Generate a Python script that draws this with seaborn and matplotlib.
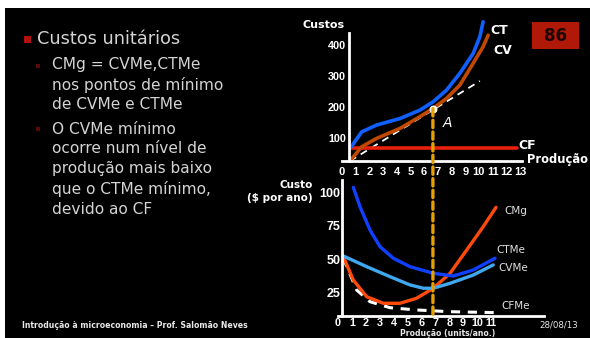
import matplotlib
matplotlib.use("Agg")
import matplotlib.pyplot as plt
from matplotlib.patches import Rectangle, ConnectionPatch
import seaborn as sns
import pandas as pd

# top chart: total costs (Custos vs Produção)
q_ct = [0.66, 1.44, 2.53, 4.23, 5.69, 6.66, 7.64, 8.61, 9.58, 10.07, 10.31]
ct = [71, 120, 142, 163, 190, 217, 255, 309, 373, 427, 475]
q_cv = [0.58, 1.44, 2.53, 4.23, 5.69, 6.66, 7.64, 8.61, 9.58, 10.31, 10.68]
cv = [26, 72, 99, 131, 169, 196, 228, 271, 341, 395, 432]
q_cf = [0.65, 12.8]
cf = [69, 69]
q_ray = [0.58, 10.07]
ray = [26, 284]
q_a, v_a = 6.64, 195
top_xticks = list(range(14))
top_yticks = [100, 200, 300, 400]

# bottom chart: unit costs
q_ctme = [1.1, 1.58, 2.3, 3.02, 3.98, 5.18, 6.86, 8.3, 9.73, 11.3]
ctme = [104, 89.5, 72, 59.5, 50.8, 44.5, 39.5, 37.5, 42, 50.8]
q_cvme = [0.38, 2.06, 3.74, 5.18, 6.14, 6.86, 8.06, 9.73, 11.17]
cvme = [52.5, 44.5, 37, 30.8, 28.3, 28.3, 32, 38.2, 45.8]
q_cmg = [0.38, 1.1, 2.06, 3.26, 4.46, 5.66, 6.86, 8.06, 9.26, 10.45, 11.37]
cmg = [52, 34.5, 22, 17, 17, 20.8, 28.3, 39.5, 57, 74.5, 89]
q_cfme = [0.38, 1.34, 2.3, 3.74, 5.66, 8.06, 11.4]
cfme = [51, 27, 18.2, 13.7, 12, 10.7, 10]
q_min = 6.83
bot_xticks = list(range(12))
bot_yticks = [25, 50, 75, 100]

bullets = [
    ["CMg = CVMe,CTMe", "nos pontos de mínimo", "de CVMe e CTMe"],
    ["O CVMe mínimo", "ocorre num nível de", "produção mais baixo",
     "que o CTMe mínimo,", "devido ao CF"],
]

W, H = 590, 338
sns.set_style("white")
plt.rcParams["font.family"] = ["DejaVu Sans"]
TICK_FONT = "Liberation Sans"

fig = plt.figure(figsize=(W / 100, H / 100), dpi=100, facecolor="white")


def rect(x0, y0, x1, y1):
    return [x0 / W, 1 - y1 / H, (x1 - x0) / W, (y1 - y0) / H]


def style_axes(ax, left_at, xsize, ysize):
    for s in ["top", "right"]:
        ax.spines[s].set_visible(False)
    for s in ["left", "bottom"]:
        ax.spines[s].set_color("white")
        ax.spines[s].set_linewidth(2)
    ax.spines["left"].set_position(("data", left_at))
    ax.tick_params(length=0, colors="white")
    for t in ax.get_xticklabels():
        t.set_fontweight("bold")
        t.set_fontfamily(TICK_FONT)
        t.set_fontsize(xsize)
    for t in ax.get_yticklabels():
        t.set_fontweight("bold")
        t.set_fontfamily(TICK_FONT)
        t.set_fontsize(ysize)


# slide background
fig.patches.append(Rectangle((5 / W, 0), 1, 1 - 8 / H, transform=fig.transFigure,
                             facecolor="black", edgecolor="none", zorder=-2))

# slide number box
fig.patches.append(Rectangle((532 / W, 1 - 49 / H), 47 / W, 27 / H,
                             transform=fig.transFigure, facecolor="#b01808",
                             edgecolor="none", zorder=-1))
fig.text(555.5 / W, 1 - 36 / H, "86", color="#1a0800", fontsize=12,
         fontweight="bold", ha="center", va="center")

# left bullets
fig.patches.append(Rectangle((24 / W, 1 - 43 / H), 7 / W, 7 / H,
                             transform=fig.transFigure, facecolor="#b01010",
                             edgecolor="none", zorder=-1))
fig.text(37 / W, 1 - 39 / H, "Custos unitários", color="#d4d4d4", fontsize=12.8,
         va="center")
y = 65
for group in bullets:
    fig.patches.append(Rectangle((36 / W, 1 - (y + 2.5) / H), 4 / W, 4 / H,
                                 transform=fig.transFigure, facecolor="#5a0808",
                                 edgecolor="none", zorder=-1))
    for line in group:
        fig.text(52 / W, 1 - y / H, line, color="#d4d4d4", fontsize=11.1,
                 va="center")
        y += 20
    y += 4

fig.text(22 / W, 1 - 326 / H, "Introdução à microeconomia – Prof. Salomão Neves",
         color="#e8e8e8", fontsize=5.6, fontweight="bold", va="center")
fig.text(559 / W, 1 - 325 / H, "28/08/13", color="#e8e8e8", fontsize=6.2,
         ha="center", va="center")

# ---------------- top chart ----------------
ax1 = fig.add_axes(rect(342, 33, 522, 161))
ax1.set_facecolor("none")
sns.lineplot(x=q_ray, y=ray, ax=ax1, color="white", lw=1.3,
             linestyle=(0, (4, 3)))
sns.lineplot(x=q_cf, y=cf, ax=ax1, color="#e8200c", lw=2.6, clip_on=False)
sns.lineplot(x=q_cv, y=cv, ax=ax1, color="#c04800", lw=2.6, sort=False,
             clip_on=False)
sns.lineplot(x=q_ct, y=ct, ax=ax1, color="#1060ff", lw=2.6, sort=False,
             clip_on=False)
ax1.scatter([q_a], [v_a], s=22, color="white", zorder=5)
ax1.set_xlim(0, 13.15)
ax1.set_ylim(26, 439)
ax1.set_xticks(top_xticks)
ax1.set_yticks(top_yticks)
style_axes(ax1, 0.5, 8, 7.8)
ax1.tick_params(axis="x", pad=4)
ax1.tick_params(axis="y", pad=2)
ax1.text(10.85, 448, "CT", color="white", fontsize=9, fontweight="bold", va="center",
         clip_on=False)
ax1.text(11.04, 382, "CV", color="white", fontsize=9, fontweight="bold", va="center",
         clip_on=False)
ax1.text(12.87, 77, "CF", color="white", fontsize=9, fontweight="bold", va="center",
         clip_on=False)
ax1.text(13.48, 32, "Produção", color="white", fontsize=8.3, fontweight="bold",
         va="center", clip_on=False)
ax1.text(0.2, 465, "Custos", color="white", fontsize=8, fontweight="bold",
         ha="right", va="center", clip_on=False)
ax1.text(7.37, 148, "A", color="white", fontsize=10, fontstyle="italic",
         va="center")

# ---------------- bottom chart ----------------
ax2 = fig.add_axes(rect(338, 180, 543.7, 315.7))
ax2.set_facecolor("none")
sns.lineplot(x=q_cfme, y=cfme, ax=ax2, color="white", lw=2.2, sort=False,
             linestyle=(0, (3, 2.5)))
sns.lineplot(x=q_cmg, y=cmg, ax=ax2, color="#ff4a0a", lw=2.4, sort=False)
sns.lineplot(x=q_cvme, y=cvme, ax=ax2, color="#40a8f0", lw=2.4, sort=False)
sns.lineplot(x=q_ctme, y=ctme, ax=ax2, color="#1040ff", lw=2.4, sort=False)
ax2.set_xlim(0, 14.8)
ax2.set_ylim(7.7, 109.5)
ax2.set_xticks(bot_xticks)
ax2.set_yticks(bot_yticks)
style_axes(ax2, 0.27, 7.8, 9)
ax2.tick_params(axis="x", pad=2)
ax2.tick_params(axis="y", pad=1)
for txt, qx, vy in [("CMg", 11.94, 86.5), ("CTMe", 11.42, 57),
                    ("CVMe", 11.51, 43.5), ("CFMe", 11.78, 15)]:
    ax2.text(qx, vy, txt, color="#e0e0e0", fontsize=7.5, va="center", clip_on=False)
ax2.text(-1.8, 101, "Custo\n($ por ano)", color="white", fontsize=7.5,
         fontweight="bold", ha="right", va="center", multialignment="right",
         clip_on=False, linespacing=1.3)
ax2.text(7.9, -6, "Produção (units/ano.)", color="#e8e8e8", fontsize=5.6,
         fontweight="bold", ha="center", va="center", clip_on=False)

# dashed orange line linking point A to the unit cost minimum
con = ConnectionPatch(xyA=(q_a, v_a), coordsA=ax1.transData,
                      xyB=(q_min, 7.7), coordsB=ax2.transData,
                      color="#e8a000", lw=2.4, linestyle=(0, (2.2, 1.3)), zorder=3)
fig.add_artist(con)

fig.savefig("out.png", dpi=100, facecolor=fig.get_facecolor())
